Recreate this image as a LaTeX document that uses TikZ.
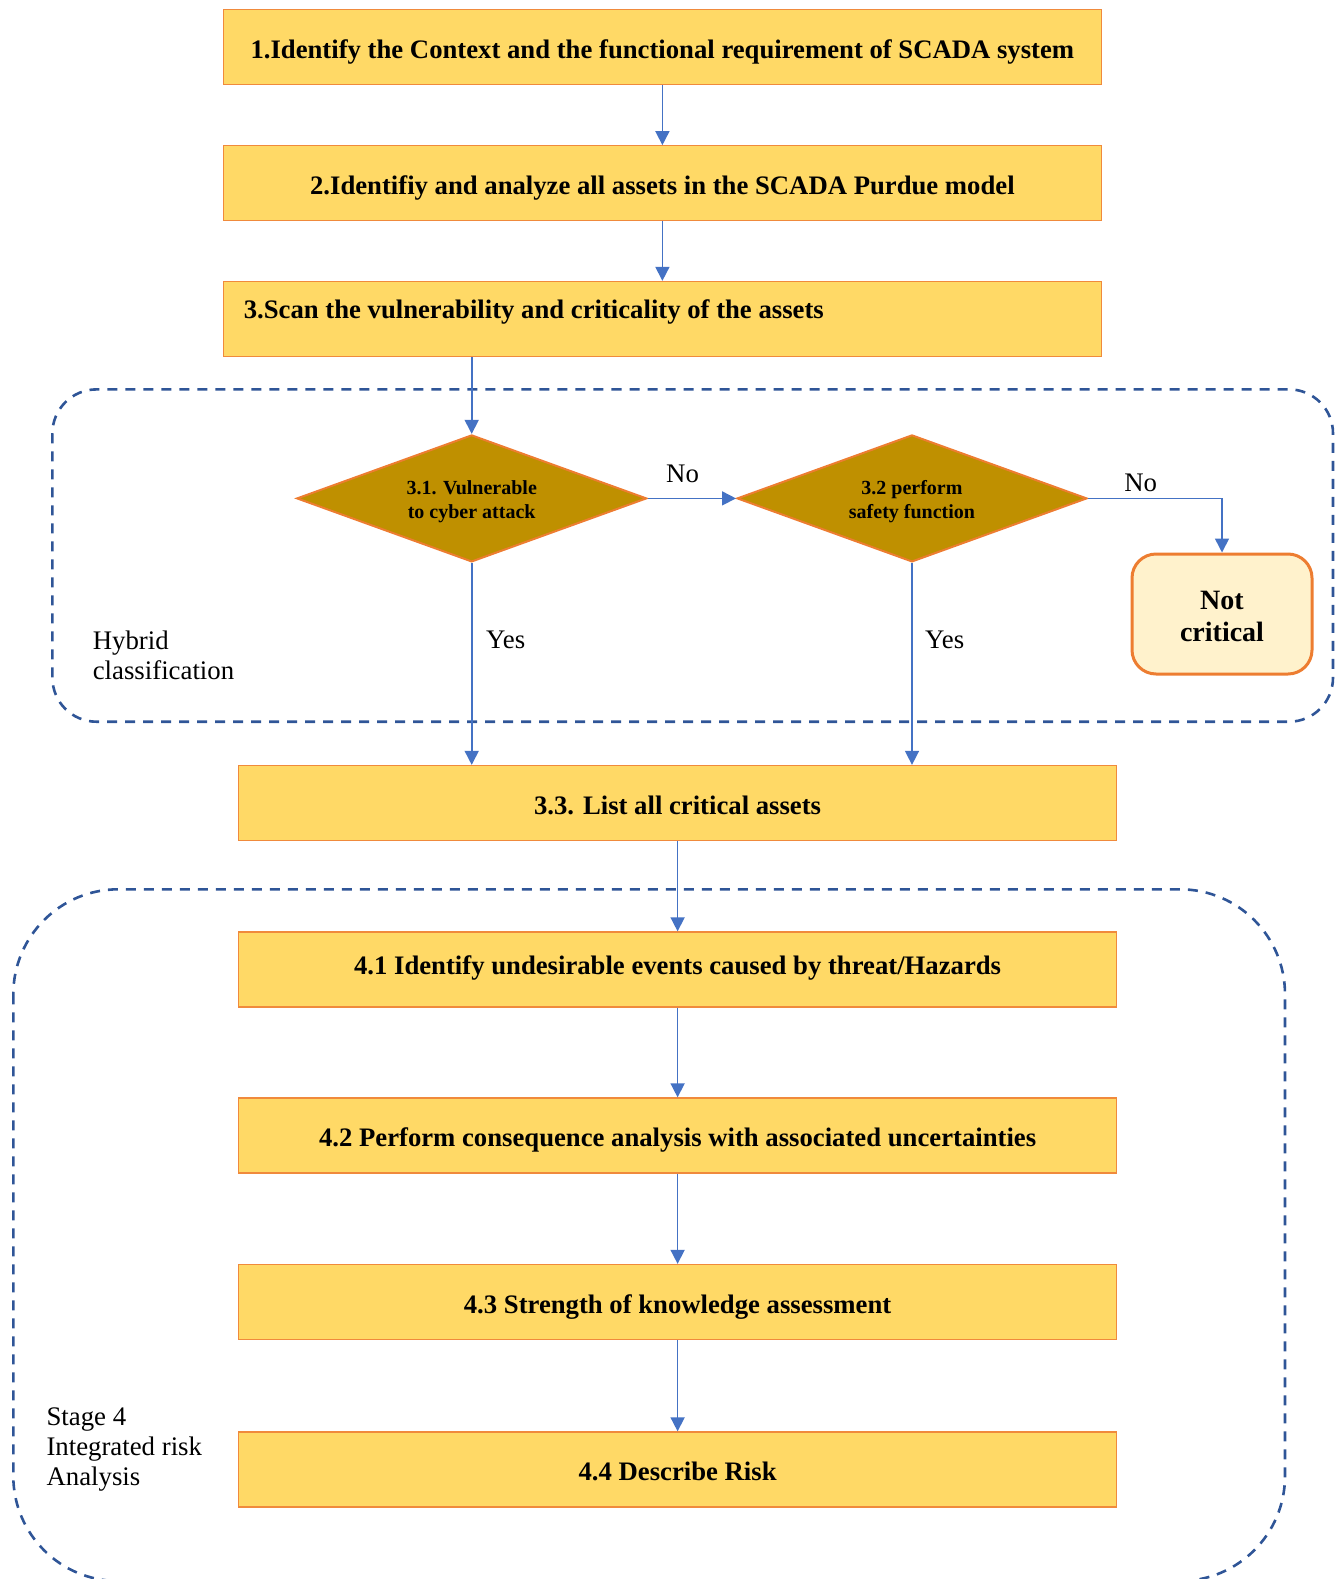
\documentclass[tikz,border=0pt]{standalone}
\usepackage{fontspec}
\setmainfont{Liberation Serif}
\usetikzlibrary{shapes.geometric,arrows.meta}
\definecolor{boxfill}{HTML}{FFD966}
\definecolor{boxdraw}{HTML}{F08A3C}
\definecolor{dmdfill}{HTML}{BF9000}
\definecolor{arrowc}{HTML}{4472C4}
\definecolor{dashc}{HTML}{2F5597}
\definecolor{ncfill}{HTML}{FFF2CC}
\definecolor{ncdraw}{HTML}{ED7D31}
\newcommand{\dropstack}[2]{\raisebox{#1}[\height][\depth]{\begin{tabular}{@{}c@{}}#2\end{tabular}}}
\begin{document}
\begin{tikzpicture}[x=1pt,y=-1pt,
  stepbox/.style={draw=boxdraw,line width=1.3pt,fill=boxfill,minimum width=878pt,minimum height=75pt,inner sep=0pt,text height=22pt,text depth=0pt,font=\bfseries\fontsize{26.7}{30}\selectfont},
  decision/.style={diamond,aspect=2.76,draw=ncdraw,line width=2pt,fill=dmdfill,minimum width=350pt,minimum height=127pt,inner sep=0pt,font=\bfseries\fontsize{20}{24}\selectfont},
  endbox/.style={draw=ncdraw,line width=3pt,fill=ncfill,rounded corners=24pt,minimum width=180pt,minimum height=120pt,inner sep=0pt,font=\bfseries\fontsize{28}{32}\selectfont},
  flow/.style={draw=arrowc,line width=1.6pt,-{Triangle[length=14pt,width=14pt]}},
  group/.style={draw=dashc,line width=2.6pt,dash pattern=on 10pt off 8pt},
  lbl/.style={inner sep=0pt,font=\fontsize{26.8}{30}\selectfont,align=left}
]
\useasboundingbox (0,0) rectangle (1335,1579);
\clip (0,0) rectangle (1335,1579);

% group containers
\draw[group,rounded corners=44pt] (52.4,389.4) rectangle (1333,721.7);
\draw[group,rounded corners=105pt] (13.3,889.3) rectangle (1285,1581);

% steps
\node[stepbox] (b1) at (662.4,47.3) {1.Identify the Context and the functional requirement of SCADA system};
\node[stepbox] (b2) at (662.4,183.3) {2.Identifiy and analyze all assets in the SCADA Purdue model};
\node[stepbox] (b3) at (662.4,319) {};
\node[anchor=west,inner sep=0pt,font=\bfseries\fontsize{26.7}{30}\selectfont] (b3t) at (243.6,311.5) {3.Scan the vulnerability and criticality of the assets};

\node[decision] (d1) at (471.7,498.4) {\dropstack{-3pt}{3.1. Vulnerable\\to cyber attack}};
\node[decision] (d2) at (912,498.4) {\dropstack{-3pt}{3.2 perform\\safety function}};
\node[endbox] (nc) at (1222,614) {\dropstack{-5pt}{Not\\critical}};

\node[stepbox] (b33) at (677.6,803) {3.3. List all critical assets};
\node[stepbox,text height=18pt,text depth=9pt] (b41) at (677.6,969.5) {4.1 Identify undesirable events caused by threat/Hazards};
\node[stepbox] (b42) at (677.6,1135.5) {4.2 Perform consequence analysis with associated uncertainties};
\node[stepbox] (b43) at (677.6,1302) {4.3 Strength of knowledge assessment};
\node[stepbox] (b44) at (677.6,1469.5) {4.4 Describe Risk};

% labels
\node[lbl,anchor=west] (hyb) at (92.6,655.5) {Hybrid\\classification};
\node[lbl,anchor=west] (st4) at (46.3,1450) {Stage 4\\Integrated risk\\Analysis};
\node[lbl] (no1) at (682.6,474) {No};
\node[lbl] (no2) at (1140.7,483) {No};
\node[lbl,anchor=west] (yes1) at (486,640.3) {Yes};
\node[lbl,anchor=west] (yes2) at (925,640.3) {Yes};

% connectors
\draw[flow] (b1) -- (b2);
\draw[flow] (b2) -- (b2.south |- b3.north);
\draw[flow] (d1.north |- b3.south) -- (d1.north);
\draw[flow] (d1.east) -- (d2.west);
\draw[flow] (d2.east) -| (nc.north);
\draw[flow] (d1.south) -- (d1.south |- b33.north);
\draw[flow] (d2.south) -- (d2.south |- b33.north);
\draw[flow] (b33) -- (b41);
\draw[flow] (b41) -- (b42);
\draw[flow] (b42) -- (b43);
\draw[flow] (b43) -- (b44);
\end{tikzpicture}
\end{document}
